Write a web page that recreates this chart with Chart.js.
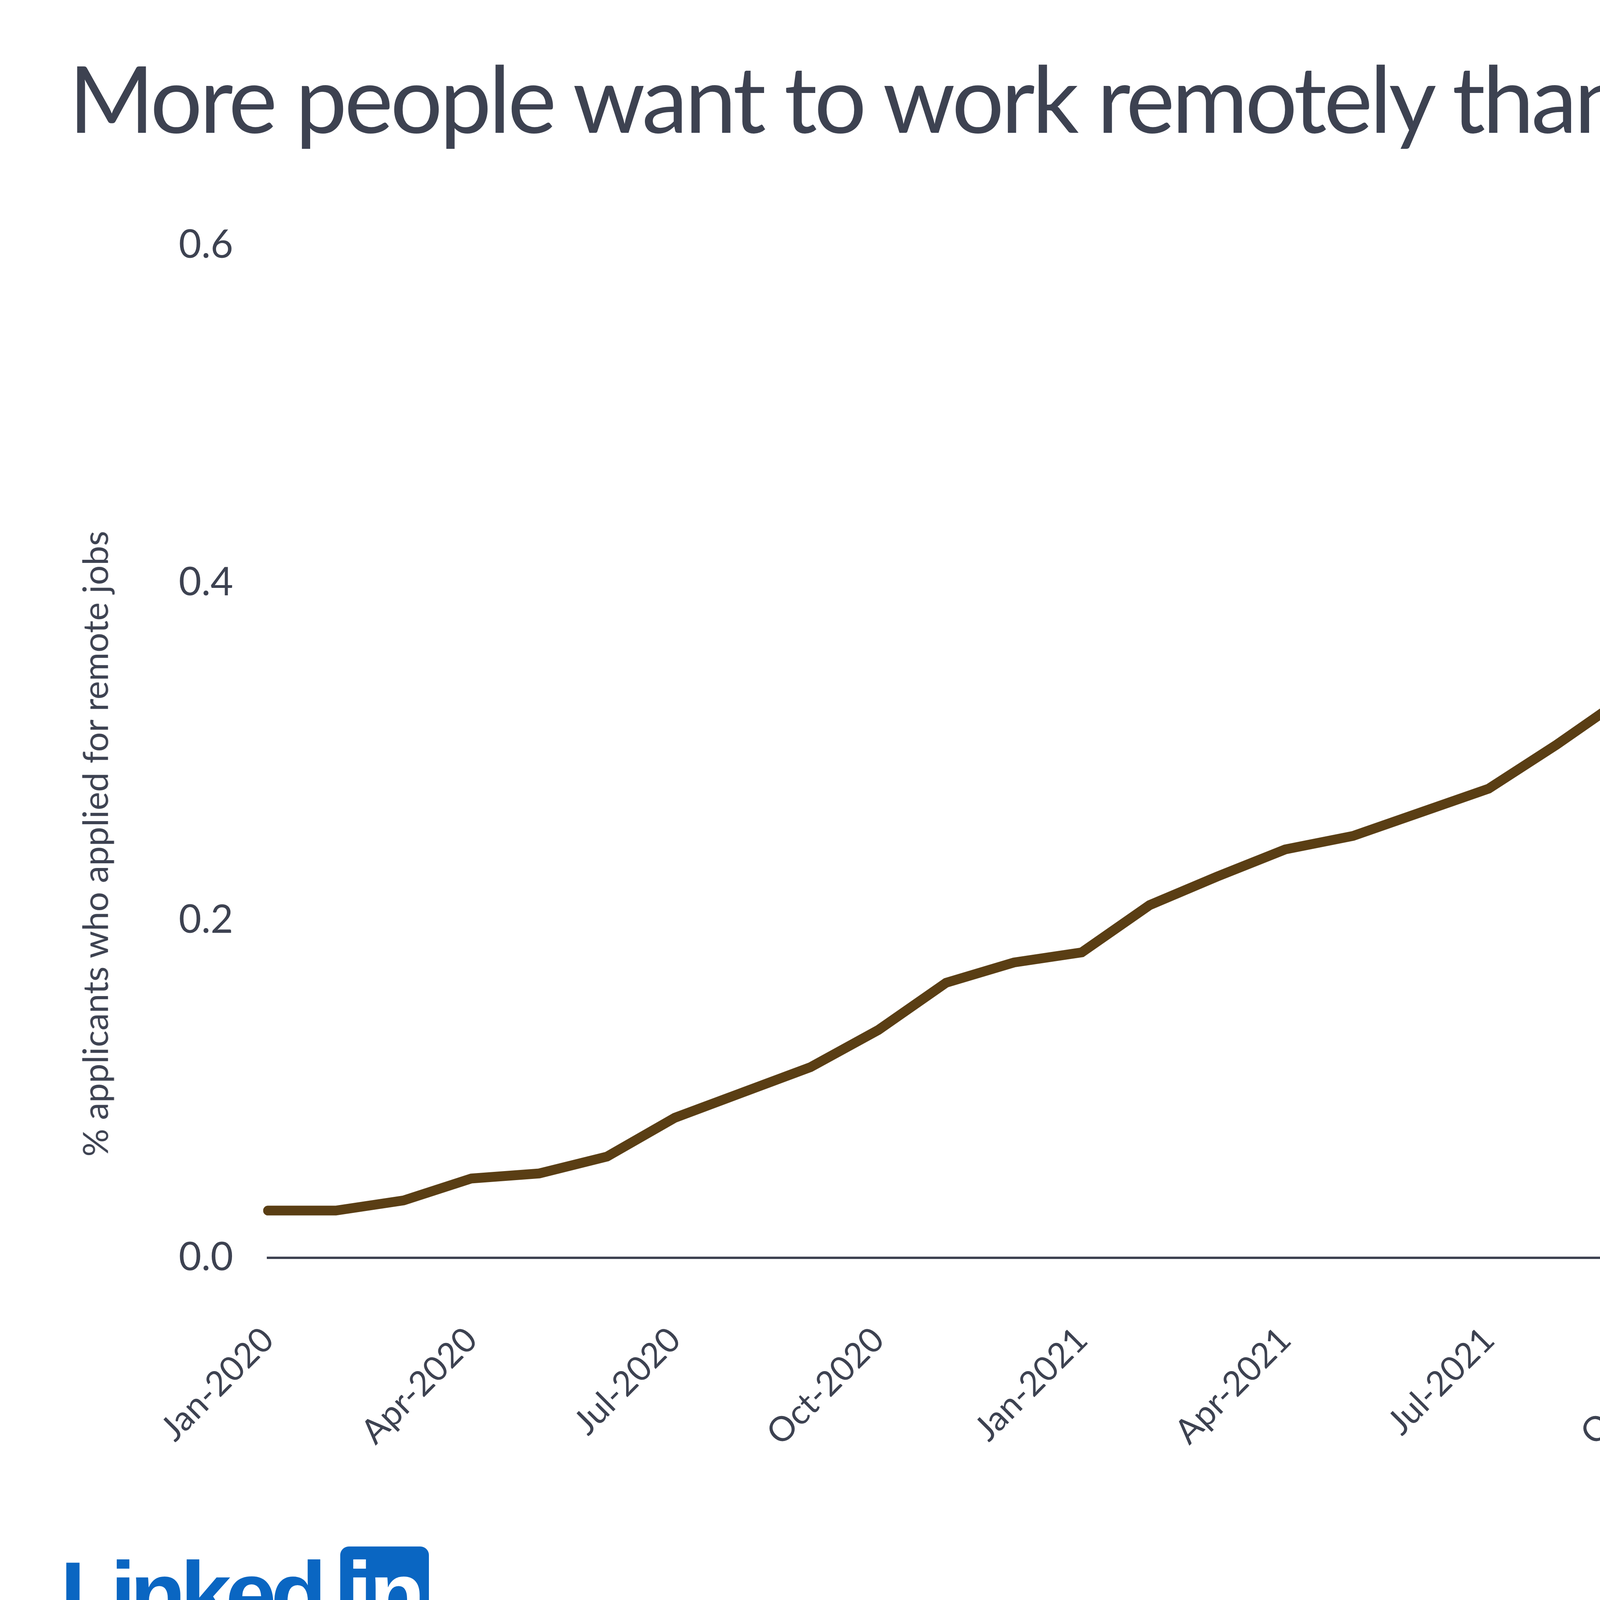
<!DOCTYPE html>
<html>
<head>
<meta charset="utf-8">
<script src="https://cdn.jsdelivr.net/npm/chart.js@4.4.0/dist/chart.umd.min.js"></script>
<style>
    html, body { margin: 0; padding: 0; background: #fff; }
    body { width: 6784px; height: 4320px; position: relative; overflow: hidden; font-family: Lato, sans-serif; color: #3d4251; }
    #remoteChart { position: absolute; left: 0; top: 0; }
    .title { position: absolute; left: 176px; top: 131px; font-size: 236px; line-height: 236px; white-space: nowrap; letter-spacing: -7px; }
    .y-title { position: absolute; left: 242px; top: 2160px; font-size: 89px; line-height: 89px; white-space: nowrap; transform: translate(-50%, -50%) rotate(-90deg); }
    .source { position: absolute; left: 0; width: 6784px; top: 4083px; font-size: 86px; line-height: 86px; text-align: center; }
    .logo-text { position: absolute; left: 154px; top: 3964px; font-family: "Liberation Sans", Arial, sans-serif; font-weight: bold; font-size: 235px; line-height: 235px; color: #0a66c2; letter-spacing: -15px; }
    .logo-box { position: absolute; left: 871px; top: 3959px; width: 227px; height: 239px; border-radius: 22px; background: #0a66c2; }
    .logo-box span { position: absolute; left: 0; width: 227px; top: 5px; text-align: center; font-family: "Liberation Sans", Arial, sans-serif; font-weight: bold; font-size: 235px; line-height: 235px; color: #fff; letter-spacing: -8px; }
</style>
</head>
<body>
<div class="title">More people want to work remotely than ever</div>
<canvas id="remoteChart" width="6784" height="4320"></canvas>
<div class="y-title">% applicants who applied for remote jobs</div>
<div class="logo-text">Linked</div>
<div class="logo-box"><span>in</span></div>
<div class="source">Source: LinkedIn Economic Graph</div>

<script>
// monthly categories, Jan 2020 .. Oct 2022
const months = [
    'Jan-2020', 'Feb-2020', 'Mar-2020', 'Apr-2020', 'May-2020', 'Jun-2020',
    'Jul-2020', 'Aug-2020', 'Sep-2020', 'Oct-2020', 'Nov-2020', 'Dec-2020',
    'Jan-2021', 'Feb-2021', 'Mar-2021', 'Apr-2021', 'May-2021', 'Jun-2021',
    'Jul-2021', 'Aug-2021', 'Sep-2021', 'Oct-2021', 'Nov-2021', 'Dec-2021',
    'Jan-2022', 'Feb-2022', 'Mar-2022', 'Apr-2022', 'May-2022', 'Jun-2022',
    'Jul-2022', 'Aug-2022', 'Sep-2022', 'Oct-2022'
];

const remoteShare = [
    0.028, 0.028, 0.034, 0.047, 0.050, 0.060,
    0.083, 0.098, 0.113, 0.135, 0.163, 0.175,
    0.181, 0.209, 0.226, 0.242, 0.250, 0.264,
    0.278, 0.304, 0.332, 0.383, 0.434, 0.466,
    0.474, 0.493, 0.512, 0.512, 0.512, 0.525,
    0.525, 0.525, 0.502, 0.494
];

// labels actually printed under the axis
const shownMonths = [
    'Jan-2020', 'Apr-2020', 'Jul-2020', 'Oct-2020',
    'Jan-2021', 'Apr-2021', 'Jul-2021', 'Oct-2021',
    'Jan-2022', 'Apr-2022', 'Jul-2022', 'Oct-2022'
];

const yTicks = [0, 0.2, 0.4, 0.6];

const textColor = '#3d4251';

const ctx = document.getElementById('remoteChart');
const chart = new Chart(ctx, {
    type: 'line',
    data: {
        labels: months,
        datasets: [{
            label: '% applicants who applied for remote jobs',
            data: remoteShare,
            borderColor: '#5a3e14',
            backgroundColor: '#5a3e14',
            borderWidth: 25,
            borderCapStyle: 'round',
            pointRadius: 0,
            tension: 0,
            fill: false
        }]
    },
    options: {
        responsive: false,
        animation: false,
        devicePixelRatio: 1,
        layout: {
            padding: { left: 0, top: 628, right: 369, bottom: 500 }
        },
        plugins: {
            legend: { display: false },
            tooltip: { enabled: false }
        },
        scales: {
            x: {
                grid: { display: false, drawTicks: false },
                border: { display: true, color: textColor, width: 6 },
                ticks: {
                    autoSkip: false,
                    minRotation: 45,
                    maxRotation: 45,
                    padding: 158,
                    color: textColor,
                    font: { family: 'Lato', size: 88 },
                    callback: function(value, index) {
                        const m = months[index];
                        return shownMonths.includes(m) ? m : '';
                    }
                },
                afterFit: function(scale) {
                    scale.height = 600;
                }
            },
            y: {
                min: yTicks[0],
                max: yTicks[yTicks.length - 1],
                grid: { display: false, drawTicks: false },
                border: { display: false },
                afterBuildTicks: function(scale) {
                    scale.ticks = yTicks.map(v => ({ value: v }));
                },
                ticks: {
                    padding: 89,
                    color: textColor,
                    font: { family: 'Lato', size: 100 },
                    callback: function(value) {
                        return Number(value).toFixed(1);
                    }
                },
                afterFit: function(scale) {
                    scale.width = 686;
                }
            }
        }
    }
});
</script>
</body>
</html>
